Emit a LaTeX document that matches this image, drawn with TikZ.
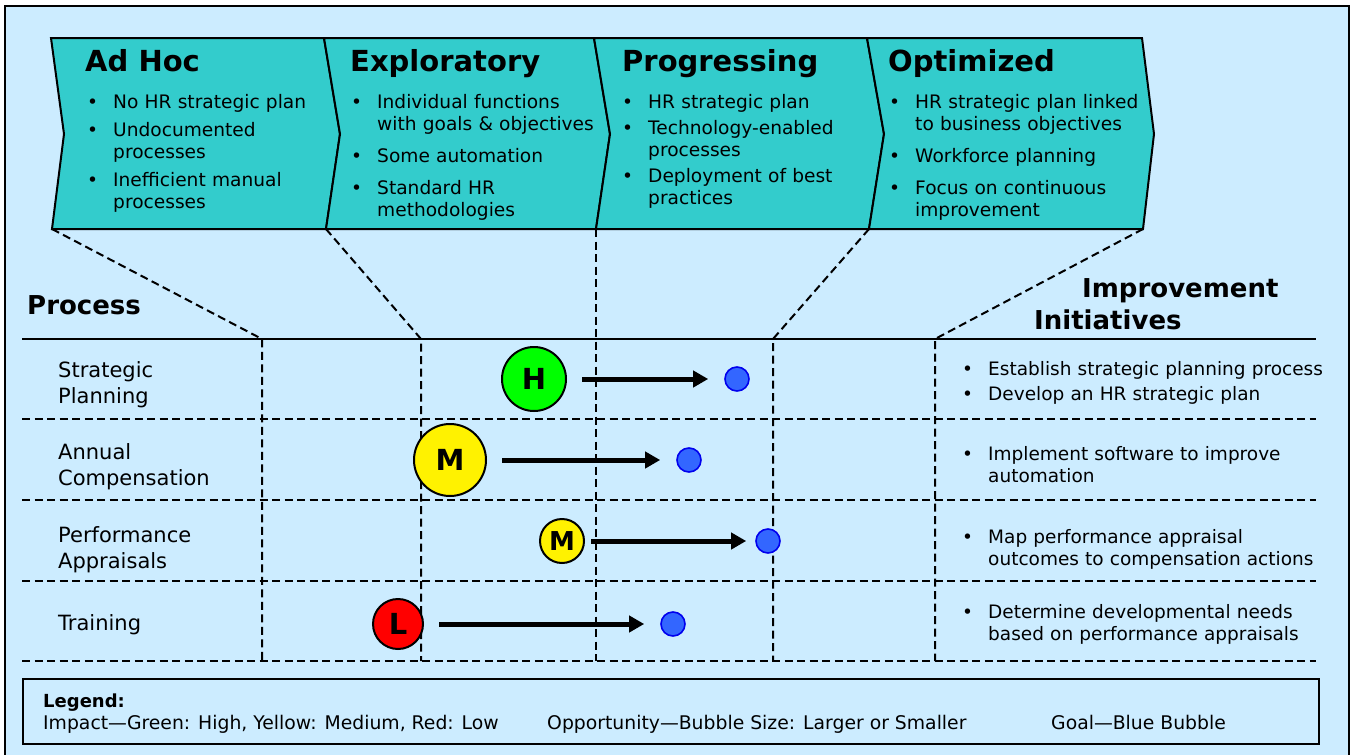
\documentclass[tikz,border=0pt]{standalone}
\usepackage{fontspec}
\setmainfont{DejaVu Sans}
\usetikzlibrary{arrows.meta,positioning}

\definecolor{paneblue}{HTML}{CCECFF}
\definecolor{chevteal}{HTML}{33CCCC}
\definecolor{goalblue}{HTML}{3366FF}
\definecolor{goalrim}{HTML}{0000EE}

\newcommand{\bul}{\makebox[26pt][l]{•}}
\newcommand{\cont}{\hspace*{26pt}}

\begin{document}
\begin{tikzpicture}[x=1pt,y=-1pt,
  chev/.style={draw,line width=2pt,fill=chevteal},
  gridline/.style={line width=2pt,dash pattern=on 8pt off 4.5pt},
  stage/.style={anchor=base west,inner sep=0pt,font=\fontsize{29}{34}\selectfont\bfseries},
  feats/.style={anchor=base west,inner sep=0pt,text width=300pt,align=left,font=\fontsize{18.6}{22}\selectfont},
  proc/.style={anchor=base west,inner sep=0pt,text width=200pt,align=left,font=\fontsize{21}{26}\selectfont},
  init/.style={anchor=base west,inner sep=0pt,text width=380pt,align=left,font=\fontsize{18.5}{22.5}\selectfont},
  head/.style={anchor=base west,inner sep=0pt,text width=300pt,align=left,font=\fontsize{26}{32}\selectfont\bfseries},
  impact/.style={circle,draw,line width=2pt,inner sep=0pt,font=\fontsize{29}{29}\selectfont\bfseries},
  goal/.style={circle,draw=goalrim,line width=1.6pt,fill=goalblue,minimum size=24pt,inner sep=0pt},
  progress/.style={-{Triangle[length=15pt,width=16pt]},line width=5pt,shorten <=15pt,shorten >=16pt},
  legtext/.style={anchor=base west,inner sep=0pt,font=\fontsize{18.8}{22}\selectfont}]

\useasboundingbox (0,0) rectangle (1355,755);
\draw[line width=2pt,fill=paneblue] (5,6) rectangle (1349,765);

% chevron corners
\coordinate (t0) at (51,38);   \coordinate (m0) at (64,134);   \coordinate (b0) at (52,229);
\coordinate (t1) at (324,38);  \coordinate (m1) at (340,134);  \coordinate (b1) at (326,229);
\coordinate (t2) at (594,38);  \coordinate (m2) at (610,134);  \coordinate (b2) at (596,229);
\coordinate (t3) at (867,38);  \coordinate (m3) at (884,134);  \coordinate (b3) at (869,229);
\coordinate (t4) at (1142,38); \coordinate (m4) at (1154,134); \coordinate (b4) at (1143,229);

\draw[chev] (t0) -- (m0) -- (b0) -- (b1) -- (m1) -- (t1) -- cycle;
\draw[chev] (t1) -- (m1) -- (b1) -- (b2) -- (m2) -- (t2) -- cycle;
\draw[chev] (t2) -- (m2) -- (b2) -- (b3) -- (m3) -- (t3) -- cycle;
\draw[chev] (t3) -- (m3) -- (b3) -- (b4) -- (m4) -- (t4) -- cycle;

\node[stage] (adhoc) at (85,71) {Ad Hoc};
\node[stage] (explor) at (350,71) {Exploratory};
\node[stage] (progr) at (622,71) {Progressing};
\node[stage] (optim) at (888,71) {Optimized};

\node[feats] (adhocl) at (87,108) {\bul No HR strategic plan\\[6pt]\bul Undocumented\\\cont processes\\[6pt]\bul Inefficient manual\\\cont processes};
\node[feats] (explorl) at (351,108) {\bul Individual functions\\\cont with goals \& objectives\\[10pt]\bul Some automation\\[10pt]\bul Standard HR\\\cont methodologies};
\node[feats] (progrl) at (622,108) {\bul HR strategic plan\\[4pt]\bul Technology-enabled\\\cont processes\\[4pt]\bul Deployment of best\\\cont practices};
\node[feats] (optiml) at (889,108) {\bul HR strategic plan linked\\\cont to business objectives\\[10pt]\bul Workforce planning\\[10pt]\bul Focus on continuous\\\cont improvement};

% grid
\draw[line width=2pt] (22,339) -- (1316,339);
\foreach \y in {419,500,581,661}
  \draw[gridline] (22,\y) -- (1316,\y);
\foreach \i/\x in {0/262,1/421,2/596,3/773,4/935}
  \draw[gridline] (b\i) -- (\x,339) -- (\x,661);

\node[head] (process) at (27,314) {Process};
\node[head] (improve) at (1034,297) {\hspace*{48pt}Improvement\\Initiatives};

\node[proc] (strat) at (58,377) {Strategic\\Planning};
\node[proc] (annual) at (58,459) {Annual\\Compensation};
\node[proc] (perf) at (58,542) {Performance\\Appraisals};
\node[proc] (train) at (58,630) {Training};

% bubbles
\node[impact,fill=green,minimum size=64pt] (h1) at (534,379) {H};
\node[goal] (g1) at (737,379) {};
\draw[progress] (h1) -- (g1);

\node[impact,fill=yellow,minimum size=72pt] (m2) at (450,460) {M};
\node[goal] (g2) at (689,460) {};
\draw[progress] (m2) -- (g2);

\node[impact,fill=yellow,minimum size=44pt,font=\fontsize{26}{26}\selectfont\bfseries] (m3) at (562,541) {M};
\node[goal] (g3) at (768,541) {};
\draw[progress,shorten <=6pt,shorten >=9pt] (m3) -- (g3);

\node[impact,fill=red,minimum size=50pt] (l4) at (398,624) {L};
\node[goal] (g4) at (673,624) {};
\draw[progress] (l4) -- (g4);

% initiatives
\node[init] (init1) at (962,375) {\bul Establish strategic planning process\\[2.5pt]\bul Develop an HR strategic plan};
\node[init] (init2) at (962,460) {\bul Implement software to improve\\\cont automation};
\node[init] (init3) at (962,543) {\bul Map performance appraisal\\\cont outcomes to compensation actions};
\node[init] (init4) at (962,618) {\bul Determine developmental needs\\\cont based on performance appraisals};

% legend
\node[draw,line width=2pt,anchor=north west,minimum width=1296pt,minimum height=65pt,inner sep=0pt] (legbox) at (22,678) {};
\node[anchor=base west,inner sep=0pt,font=\fontsize{18}{18}\selectfont\bfseries] (legtitle) at (43,707) {Legend:};
\node[legtext] (legimpact) at (43,729) {Impact—Green: High, Yellow: Medium, Red: Low};
\node[legtext] (legopp) at (547,729) {Opportunity—Bubble Size: Larger or Smaller};
\node[legtext] (leggoal) at (1051,729) {Goal—Blue Bubble};

\end{tikzpicture}
\end{document}
